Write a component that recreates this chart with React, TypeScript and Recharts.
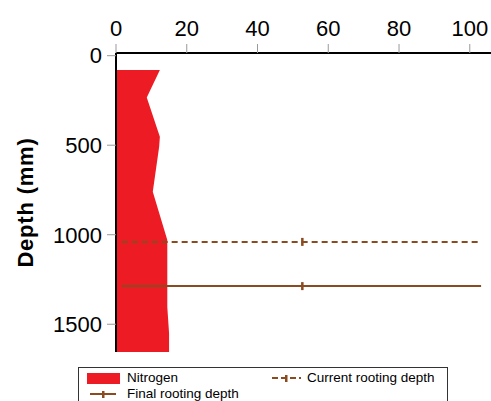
import React from 'react';
import { ComposedChart, Area, Line, XAxis, YAxis } from 'recharts';

// nitrogen profile
const depths = [80, 233, 453, 509, 760, 1030, 1403, 1550, 1655];
const nitrogen = [12.4, 8.7, 12.4, 12.2, 10.4, 14.5, 14.5, 15, 15];

const currentRootingDepth = 1040;
const finalRootingDepth = 1287;
const rootLineX = [1.6, 52.6, 103.2];

const xTicks = [0, 20, 40, 60, 80, 100];
const yTicks = [0, 500, 1000, 1500];

const RED = '#ED1C24';
const BROWN = '#8A4B20';
const FONT = '"Liberation Sans", Arial, sans-serif';

const nitrogenData = depths.map((d, i) => ({ depth: d, nitrogen: nitrogen[i] }));
const currentData = rootLineX.map((x) => ({ depth: currentRootingDepth, current: x }));
const finalData = rootLineX.map((x) => ({ depth: finalRootingDepth, final: x }));

const midMarker = (props: any) => {
  const { cx, cy, index } = props;
  if (index !== 1) return <g key={`m-${index}`} />;
  return <rect key={`m-${index}`} x={cx - 1} y={cy - 4} width={2.5} height={8} fill={BROWN} />;
};

const DepthLabel = (props: any) => {
  const vb = props.viewBox || {};
  const cy = vb.y + vb.height / 2;
  return (
    <text
      x={25}
      y={cy}
      transform={`rotate(-90, 25, ${cy})`}
      textAnchor="middle"
      dominantBaseline="central"
      fontFamily={FONT}
      fontSize={22}
      fontWeight="bold"
      letterSpacing={0.8}
      fill="#000"
    >
      Depth (mm)
    </text>
  );
};

function LegendBox() {
  return (
    <div
      style={{
        position: 'absolute',
        left: 78,
        top: 367,
        width: 370,
        height: 40,
        border: '1px solid #333',
        fontFamily: FONT,
        fontSize: 13.5,
        color: '#000',
        boxSizing: 'border-box',
      }}
    >
      <div style={{ position: 'absolute', left: 8, top: 5, width: 33, height: 11, background: RED }} />
      <div style={{ position: 'absolute', left: 48, top: 2, lineHeight: '15px' }}>Nitrogen</div>
      <svg style={{ position: 'absolute', left: 193, top: 4 }} width={30} height={12}>
        <line x1={0} y1={6} x2={29} y2={6} stroke={BROWN} strokeWidth={2} strokeDasharray="6 3" />
        <rect x={13} y={3} width={2.5} height={7} fill={BROWN} />
      </svg>
      <div style={{ position: 'absolute', left: 228, top: 2, lineHeight: '15px' }}>Current rooting depth</div>
      <svg style={{ position: 'absolute', left: 11, top: 20 }} width={27} height={12}>
        <line x1={0} y1={6} x2={26} y2={6} stroke={BROWN} strokeWidth={2} />
        <rect x={12} y={3} width={2.5} height={7} fill={BROWN} />
      </svg>
      <div style={{ position: 'absolute', left: 48, top: 18, lineHeight: '15px' }}>Final rooting depth</div>
    </div>
  );
}

export default function App() {
  return (
    <div style={{ position: 'absolute', left: 0, top: 0, width: 491, height: 401, background: '#fff', overflow: 'hidden' }}>
      <ComposedChart
        width={491}
        height={401}
        layout="vertical"
        margin={{ top: 0, right: 0, bottom: 49, left: 0 }}
      >
        <XAxis
          type="number"
          orientation="top"
          domain={[0, 106]}
          ticks={xTicks}
          allowDataOverflow
          height={53}
          tickSize={9}
          tickMargin={8}
          axisLine={{ stroke: '#000', strokeWidth: 2 }}
          tickLine={{ stroke: '#999', strokeWidth: 1 }}
          tick={{ fontFamily: FONT, fontSize: 22, fill: '#000' }}
        />
        <YAxis
          type="number"
          dataKey="depth"
          domain={[-15, 1655]}
          ticks={yTicks}
          allowDataOverflow
          width={116}
          tickSize={9}
          tickMargin={5}
          axisLine={{ stroke: '#000', strokeWidth: 2 }}
          tickLine={{ stroke: '#999', strokeWidth: 1 }}
          tick={{ fontFamily: FONT, fontSize: 22, fill: '#000' }}
          label={<DepthLabel />}
        />
        <Area
          data={nitrogenData}
          dataKey="nitrogen"
          type="linear"
          fill={RED}
          fillOpacity={1}
          stroke="none"
          isAnimationActive={false}
        />
        <Line
          data={currentData}
          dataKey="current"
          type="linear"
          stroke={BROWN}
          strokeWidth={2}
          strokeDasharray="6 4"
          dot={midMarker}
          activeDot={false}
          isAnimationActive={false}
        />
        <Line
          data={finalData}
          dataKey="final"
          type="linear"
          stroke={BROWN}
          strokeWidth={2}
          dot={midMarker}
          activeDot={false}
          isAnimationActive={false}
        />
      </ComposedChart>
      <LegendBox />
    </div>
  );
}
